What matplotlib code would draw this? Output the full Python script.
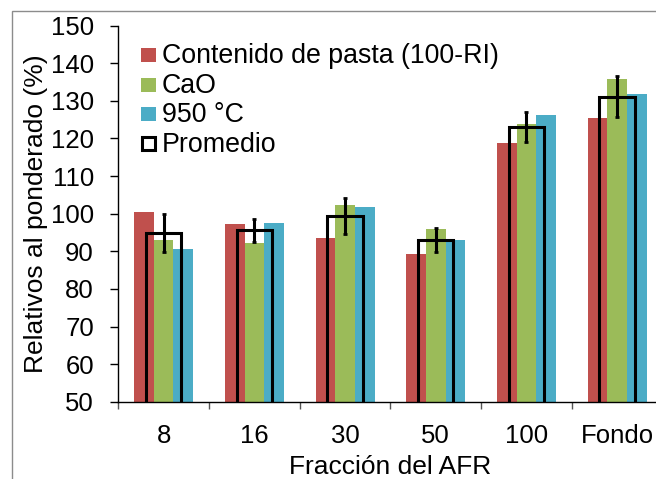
import numpy as np
import matplotlib
matplotlib.use('Agg')
import matplotlib.pyplot as plt
from matplotlib.patches import Rectangle

plt.rcParams['font.family'] = ['Liberation Sans', 'DejaVu Sans']

# Values
categories = ['8', '16', '30', '50', '100', 'Fondo']
pasta = [100.4, 97.2, 93.5, 89.3, 118.7, 125.5]
cao = [93.0, 92.3, 102.4, 95.9, 123.8, 135.8]
t950 = [90.6, 97.4, 101.8, 93.0, 126.3, 131.9]
promedio = [94.8, 95.6, 99.4, 92.9, 123.1, 131.1]
desv = [5.0, 3.0, 4.9, 3.2, 4.0, 5.4]

series_labels = ['Contenido de pasta (100-RI)', 'CaO', '950 °C', 'Promedio']
colors = ['#C0504D', '#9BBB59', '#4BACC6']

W, H = 656, 479


def fx(px):
    return px / W


def fy(py):
    return 1 - py / H


fig = plt.figure(figsize=(W / 100, H / 100), dpi=100)
ax = fig.add_axes([fx(118.3), fy(401.7), 6 * 90.7 / W, (401.7 - 25.7) / H])

x = np.arange(len(categories))
bw = 0.217
for vals, off, c in zip([pasta, cao, t950], [-bw, 0, bw], colors):
    ax.bar(x + off, vals, width=bw, color=c, edgecolor='none', zorder=2)

# average as an unfilled box with error bars
ax.bar(x, promedio, width=0.39, facecolor='none', edgecolor='black',
       linewidth=2.2, zorder=3)
ax.errorbar(x, promedio, yerr=desv, fmt='none', ecolor='black',
            elinewidth=2.2, capsize=1.6, capthick=2, zorder=4)

ax.set_xlim(-0.5, 5.5)
ax.set_ylim(50, 150)
ax.set_yticks(np.arange(50, 151, 10))
ax.set_xticks(x)
ax.set_xticklabels(categories)
ax.set_xticks(np.arange(-0.5, 5.6, 1), minor=True)

for s in ['top', 'right']:
    ax.spines[s].set_visible(False)
for s in ['left', 'bottom']:
    ax.spines[s].set_linewidth(1.0)
    ax.spines[s].set_color('black')

ax.tick_params(axis='y', direction='out', length=5.5, width=1, pad=12,
               labelsize=18.5)
ax.tick_params(axis='x', which='major', length=0, pad=16, labelsize=18.5)
ax.tick_params(axis='x', which='minor', direction='out', length=5,
               width=1, color='#555555')

fig.text(fx(36), fy(213.7), 'Relativos al ponderado (%)', rotation=90,
         ha='center', va='center', fontsize=19)
fig.text(fx(390.5), fy(473.5), 'Fracción del AFR', ha='center',
         va='baseline', fontsize=19)

# legend drawn by hand to match the tight row spacing
baselines = [63.3, 93.3, 121.7, 151.7]
for i, lab in enumerate(series_labels):
    b = baselines[i]
    if i < 3:
        fig.patches.append(Rectangle((fx(140.7), fy(b - 1)), 15 / W, 14 / H,
                                     transform=fig.transFigure,
                                     facecolor=colors[i], edgecolor='none'))
    else:
        fig.patches.append(Rectangle((fx(141.5), fy(b - 1.5)), 13.5 / W,
                                     13.5 / H, transform=fig.transFigure,
                                     facecolor='none', edgecolor='black',
                                     linewidth=2.2))
    fig.text(fx(161.7), fy(b), lab, ha='left', va='baseline', fontsize=19.3)

# chart area border (cropped on the right and bottom)
fig.patches.append(Rectangle((fx(11.7), fy(H + 5)), 1, (H + 5 - 10.7) / H,
                             transform=fig.transFigure, facecolor='none',
                             edgecolor='#8c8c8c', linewidth=1.0))

fig.savefig('out.png', dpi=100)
